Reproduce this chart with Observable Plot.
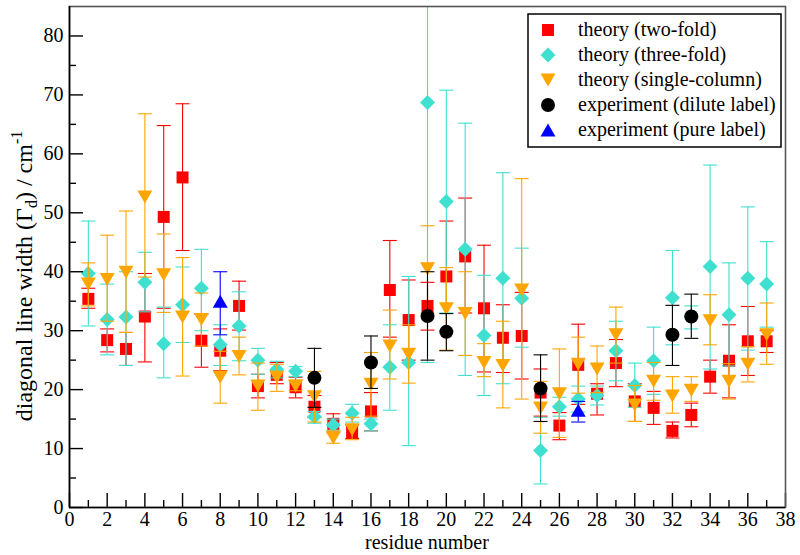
<!DOCTYPE html>
<html><head><meta charset="utf-8">
<script src="https://cdn.jsdelivr.net/npm/d3@7"></script>
<script src="https://cdn.jsdelivr.net/npm/@observablehq/plot@0.6"></script>
<style>body{margin:0;background:#fff} svg{display:block}</style>
</head><body><div id="chart"></div>
<script>
// ---------- data ----------
const residues = [1,2,3,4,5,6,7,8,9,10,11,12,13,14,15,16,17,18,19,20,21,22,23,24,25,26,27,28,29,30,31,32,33,34,35,36,37];

const twoFold   = [35.4,28.4,26.9,32.4,49.3,56.0,28.3,26.6,34.2,20.6,22.5,20.4,17.1,14.2,12.8,16.3,36.9,31.8,34.2,39.2,42.6,33.8,28.8,29.1,19.5,13.9,24.2,19.3,24.5,18.0,16.9,13.0,15.7,22.2,24.9,28.2,28.2];
const twoFoldLo = [33.8,26.4,24.1,24.7,33.8,43.6,23.8,23.2,30.1,18.6,21.0,18.6,15.3,12.8,11.7,13.0,28.9,25.0,30.1,30.0,33.0,23.0,22.9,21.8,15.5,11.5,17.5,15.7,20.5,14.6,14.1,11.8,13.7,19.4,18.6,22.4,26.3];
const twoFoldHi = [37.2,30.3,29.7,39.7,64.8,68.5,32.8,30.3,38.4,22.6,24.6,22.1,19.0,15.9,14.0,19.5,45.3,38.6,38.2,48.6,52.5,44.5,34.4,36.5,23.5,16.1,31.1,21.0,28.5,21.0,19.7,14.5,17.7,25.0,31.0,34.1,30.0];

const threeFold   = [39.7,31.9,32.3,38.2,27.8,34.4,37.2,27.6,30.8,25.0,23.4,23.1,15.4,14.0,16.0,14.2,23.8,24.6,68.7,51.9,43.8,29.2,38.9,35.5,9.65,17.1,18.4,19.0,26.6,20.7,24.9,35.6,32.3,40.9,32.7,38.9,37.9];
const threeFoldLo = [30.8,25.9,24.1,33.2,22.0,28.0,30.0,24.1,24.9,22.6,22.0,22.2,14.3,13.0,14.5,13.0,16.5,10.5,24.6,33.0,22.4,19.0,21.0,27.2,4.0,15.5,16.2,17.4,21.5,17.0,19.2,27.6,30.3,23.5,24.0,26.7,30.6];
const threeFoldHi = [48.6,37.9,40.0,43.3,34.0,40.8,43.8,31.0,36.6,27.0,24.8,23.9,16.3,15.0,17.5,15.0,31.0,39.2,112.0,70.8,65.2,39.4,56.8,44.0,15.3,18.7,20.6,20.6,31.6,24.5,30.6,43.6,34.2,58.1,41.5,51.0,45.1];

const singleCol   = [37.9,38.7,39.9,52.7,39.5,32.3,31.9,22.1,25.6,20.6,22.1,20.6,18.8,11.8,13.2,20.9,27.4,26.0,40.5,33.7,32.9,24.6,24.1,36.9,16.9,19.3,24.3,23.5,29.3,17.4,21.4,18.9,19.9,31.7,21.4,24.3,29.3];
const singleColLo = [34.2,31.6,29.7,39.1,33.1,22.3,27.4,17.7,22.5,16.5,19.7,19.8,14.5,10.9,11.5,15.5,21.8,21.1,33.0,26.7,25.8,22.2,16.9,18.4,12.6,11.9,19.4,19.5,24.5,14.6,18.2,16.0,18.0,27.6,18.4,21.3,24.3];
const singleColHi = [41.5,46.2,50.3,66.8,46.4,42.4,36.4,26.5,28.9,24.5,24.3,21.6,23.1,13.0,15.3,26.3,33.5,31.0,47.8,40.7,40.0,27.8,31.6,55.8,21.4,26.9,28.9,27.4,34.0,20.7,24.6,22.2,22.2,36.1,24.4,27.3,34.7];

const diluteRes = [13,16,19,20,25,32,33];
const dilute    = [22.0,24.6,32.5,29.8,20.2,29.3,32.4];
const diluteLo  = [17.0,20.2,25.0,26.6,14.6,24.1,28.7];
const diluteHi  = [27.0,29.1,40.0,32.9,25.9,34.3,36.2];

const pureRes = [8,27];
const pure    = [35.0,16.5];
const pureLo  = [29.3,14.5];
const pureHi  = [40.0,18.0];

const xMajor = [0,2,4,6,8,10,12,14,16,18,20,22,24,26,28,30,32,34,36,38];
const xMinor = [1,3,5,7,9,11,13,15,17,19,21,23,25,27,29,31,33,35,37];
const yMajor = [0,10,20,30,40,50,60,70,80];
const yMinor = [5,15,25,35,45,55,65,75];

const seriesNames = ["theory (two-fold)","theory (three-fold)","theory (single-column)","experiment (dilute label)","experiment (pure label)"];
const seriesColors = ["#ff0000","#40e0d0","#ffa500","#000000","#0000ff"];

// ---------- symbols ----------
const symSquare = {draw(c){const h=6; c.moveTo(-h,-h); c.lineTo(h,-h); c.lineTo(h,h); c.lineTo(-h,h); c.closePath();}};
const symDiamond = {draw(c){const h=7.5; c.moveTo(0,-h); c.lineTo(h,0); c.lineTo(0,h); c.lineTo(-h,0); c.closePath();}};
const symTriDown = {draw(c){c.moveTo(-7.5,-6.5); c.lineTo(7.5,-6.5); c.lineTo(0,6.5); c.closePath();}};
const symTriUp = {draw(c){c.moveTo(-7.5,6.5); c.lineTo(7.5,6.5); c.lineTo(0,-6.5); c.closePath();}};
const symCircle = {draw(c){c.moveTo(7,0); c.arc(0,0,7,0,2*Math.PI); c.closePath();}};
const symCap = {draw(c){c.moveTo(-7,0); c.lineTo(7,0);}};
const seriesSymbols = [symSquare, symDiamond, symTriDown, symCircle, symTriUp];

function table(xs, v, lo, hi){ return xs.map((r,i)=>({r, v:v[i], lo:lo[i], hi:hi[i]})); }
const tables = [
  table(residues, twoFold, twoFoldLo, twoFoldHi),
  table(residues, threeFold, threeFoldLo, threeFoldHi),
  table(residues, singleCol, singleColLo, singleColHi),
  table(diluteRes, dilute, diluteLo, diluteHi),
  table(pureRes, pure, pureLo, pureHi)
];

const W = 800, H = 555, mL = 69, mR = 15, mT = 6, mB = 48;
const pw = W - mL - mR, ph = H - mT - mB;
const font = "Liberation Serif";

const seriesMarks = tables.flatMap((t,i)=>[
  Plot.ruleX(t, {x:"r", y1:"lo", y2:"hi", stroke: seriesColors[i], strokeWidth: 1.1, clip: true}),
  Plot.dot(t, {x:"r", y:"lo", symbol: symCap, stroke: seriesColors[i], fill: "none", strokeWidth: 1.1, clip: true}),
  Plot.dot(t, {x:"r", y:"hi", symbol: symCap, stroke: seriesColors[i], fill: "none", strokeWidth: 1.1, clip: true}),
  Plot.dot(t, {x:"r", y:"v", symbol: seriesSymbols[i], fill: seriesColors[i], stroke: "none", clip: true})
]);

const chart = Plot.plot({
  width: W, height: H,
  marginLeft: mL, marginRight: mR, marginTop: mT, marginBottom: mB,
  x: {domain: [0, 38]},
  y: {domain: [0, 85]},
  marks: [
    ...seriesMarks,
    Plot.ruleX(xMajor, {x: d=>d, insetTop: ph - 14, stroke: "#000", strokeWidth: 1.4}),
    Plot.ruleX(xMinor, {x: d=>d, insetTop: ph - 7, stroke: "#000", strokeWidth: 1.4}),
    Plot.ruleY(yMajor, {y: d=>d, insetRight: pw - 14, stroke: "#000", strokeWidth: 1.4}),
    Plot.ruleY(yMinor, {y: d=>d, insetRight: pw - 7, stroke: "#000", strokeWidth: 1.4}),
    Plot.axisX(xMajor, {tickSize: 0, tickPadding: 4, fontSize: 20, fill: "#000", label: null}),
    Plot.axisY(yMajor, {tickSize: 0, tickPadding: 6, fontSize: 20, fill: "#000", label: null}),
    Plot.frame({stroke: "#555", strokeWidth: 1.6}),
    Plot.ruleX([0], {x: d=>d, stroke: "#000", strokeWidth: 1.6}),
    Plot.ruleY([0], {y: d=>d, stroke: "#000", strokeWidth: 1.6})
  ]
});
document.getElementById("chart").appendChild(chart);

// ---------- labels & legend ----------
const svg = d3.select(chart);
svg.attr("font-family", font);
svg.append("text")
  .attr("x", mL + pw/2).attr("y", 549)
  .attr("text-anchor", "middle").attr("font-size", 20)
  .text("residue number");

const yl = svg.append("text")
  .attr("transform", "translate(32,276) rotate(-90)")
  .attr("text-anchor", "middle").attr("font-size", 24);
yl.append("tspan").text("diagonal line width (Γ");
yl.append("tspan").attr("font-size", 16).attr("dy", 5).text("d");
yl.append("tspan").attr("dy", -5).text(") / cm");
yl.append("tspan").attr("font-size", 16).attr("dy", -10).text("-1");

const lg = svg.append("g");
lg.append("rect").attr("x", 528).attr("y", 14).attr("width", 253).attr("height", 133)
  .attr("fill", "#fff").attr("stroke", "#000").attr("stroke-width", 1.5);
seriesNames.forEach((name, i) => {
  const cy = 30 + i * 25;
  lg.append("path").attr("transform", `translate(548,${cy})`)
    .attr("d", d3.symbol(seriesSymbols[i])()).attr("fill", seriesColors[i]);
  lg.append("text").attr("x", 578).attr("y", cy + 6).attr("text-anchor", "start")
    .attr("font-size", 20).text(name);
});
svg.selectAll("text").attr("font-family", font);
svg.selectAll("g").filter(function(){ return this.hasAttribute("font-family"); }).attr("font-family", font);
</script>
</body></html>
